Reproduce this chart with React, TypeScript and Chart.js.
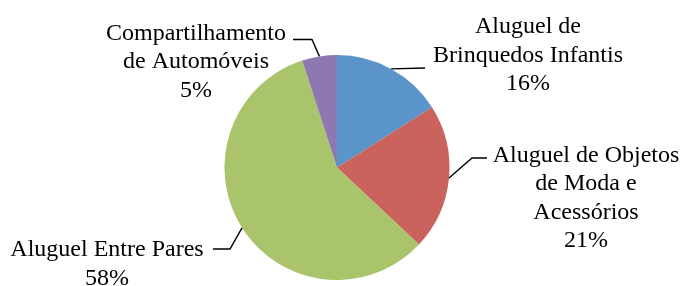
import { useEffect, useRef } from 'react';
import { Chart, registerables } from 'chart.js';

Chart.register(...registerables);

const categories = [
  'Aluguel de\nBrinquedos Infantis',
  'Aluguel de Objetos\nde Moda e\nAcessórios',
  'Aluguel Entre Pares',
  'Compartilhamento\nde Automóveis',
];
const values = [16, 21, 58, 5];
const colors = ['#5B94C8', '#CA625D', '#A9C46B', '#8E78B2'];

// layout of the outside labels: text centre x, first baseline, leader-line points after the slice edge
const labelLayout = [
  { cx: 528, base: 33, path: [[425, 68]] },
  { cx: 586, base: 161.5, path: [[472, 158], [487, 158]] },
  { cx: 107, base: 256, path: [[230, 249], [213, 249]] },
  { cx: 196, base: 39.5, path: [[312, 39.5], [293, 39.5]] },
];

const labelPlugin = {
  id: 'pieLabels',
  afterDraw(chart: any) {
    const ctx = chart.ctx as CanvasRenderingContext2D;
    const meta = chart.getDatasetMeta(0);
    ctx.save();
    meta.data.forEach((arc: any, i: number) => {
      const { x, y, startAngle, endAngle, outerRadius } = arc.getProps(
        ['x', 'y', 'startAngle', 'endAngle', 'outerRadius'],
        true
      );
      const mid = (startAngle + endAngle) / 2;
      const sx = x + Math.cos(mid) * outerRadius;
      const sy = y + Math.sin(mid) * outerRadius;
      const lay = labelLayout[i];
      ctx.beginPath();
      ctx.moveTo(sx, sy);
      lay.path.forEach(([px, py]) => ctx.lineTo(px, py));
      ctx.strokeStyle = '#000';
      ctx.lineWidth = 1.4;
      ctx.stroke();
      const lines = [...categories[i].split('\n'), `${values[i]}%`];
      ctx.font = '24px "Liberation Serif", "Times New Roman", serif';
      ctx.fillStyle = '#000';
      ctx.textAlign = 'center';
      ctx.textBaseline = 'alphabetic';
      lines.forEach((t, k) => ctx.fillText(t, lay.cx, lay.base + k * 28.5));
    });
    ctx.restore();
  },
};

export default function App() {
  const ref = useRef<HTMLCanvasElement>(null);
  useEffect(() => {
    document.body.style.margin = '0';
    const chart = new Chart(ref.current!, {
      type: 'pie',
      data: {
        labels: categories.map((c) => c.replace(/\n/g, ' ')),
        datasets: [
          {
            data: values,
            backgroundColor: colors,
            borderWidth: 0,
            radius: 112.5,
          } as any,
        ],
      },
      options: {
        responsive: false,
        maintainAspectRatio: false,
        animation: false,
        layout: { padding: { left: 0, right: 10, top: 49, bottom: 0 } },
        plugins: {
          legend: { display: false },
          tooltip: { enabled: false },
        },
      },
      plugins: [labelPlugin],
    });
    return () => chart.destroy();
  }, []);
  return (
    <div style={{ width: 684, height: 286, background: '#fff' }}>
      <canvas ref={ref} width={684} height={286} />
    </div>
  );
}
